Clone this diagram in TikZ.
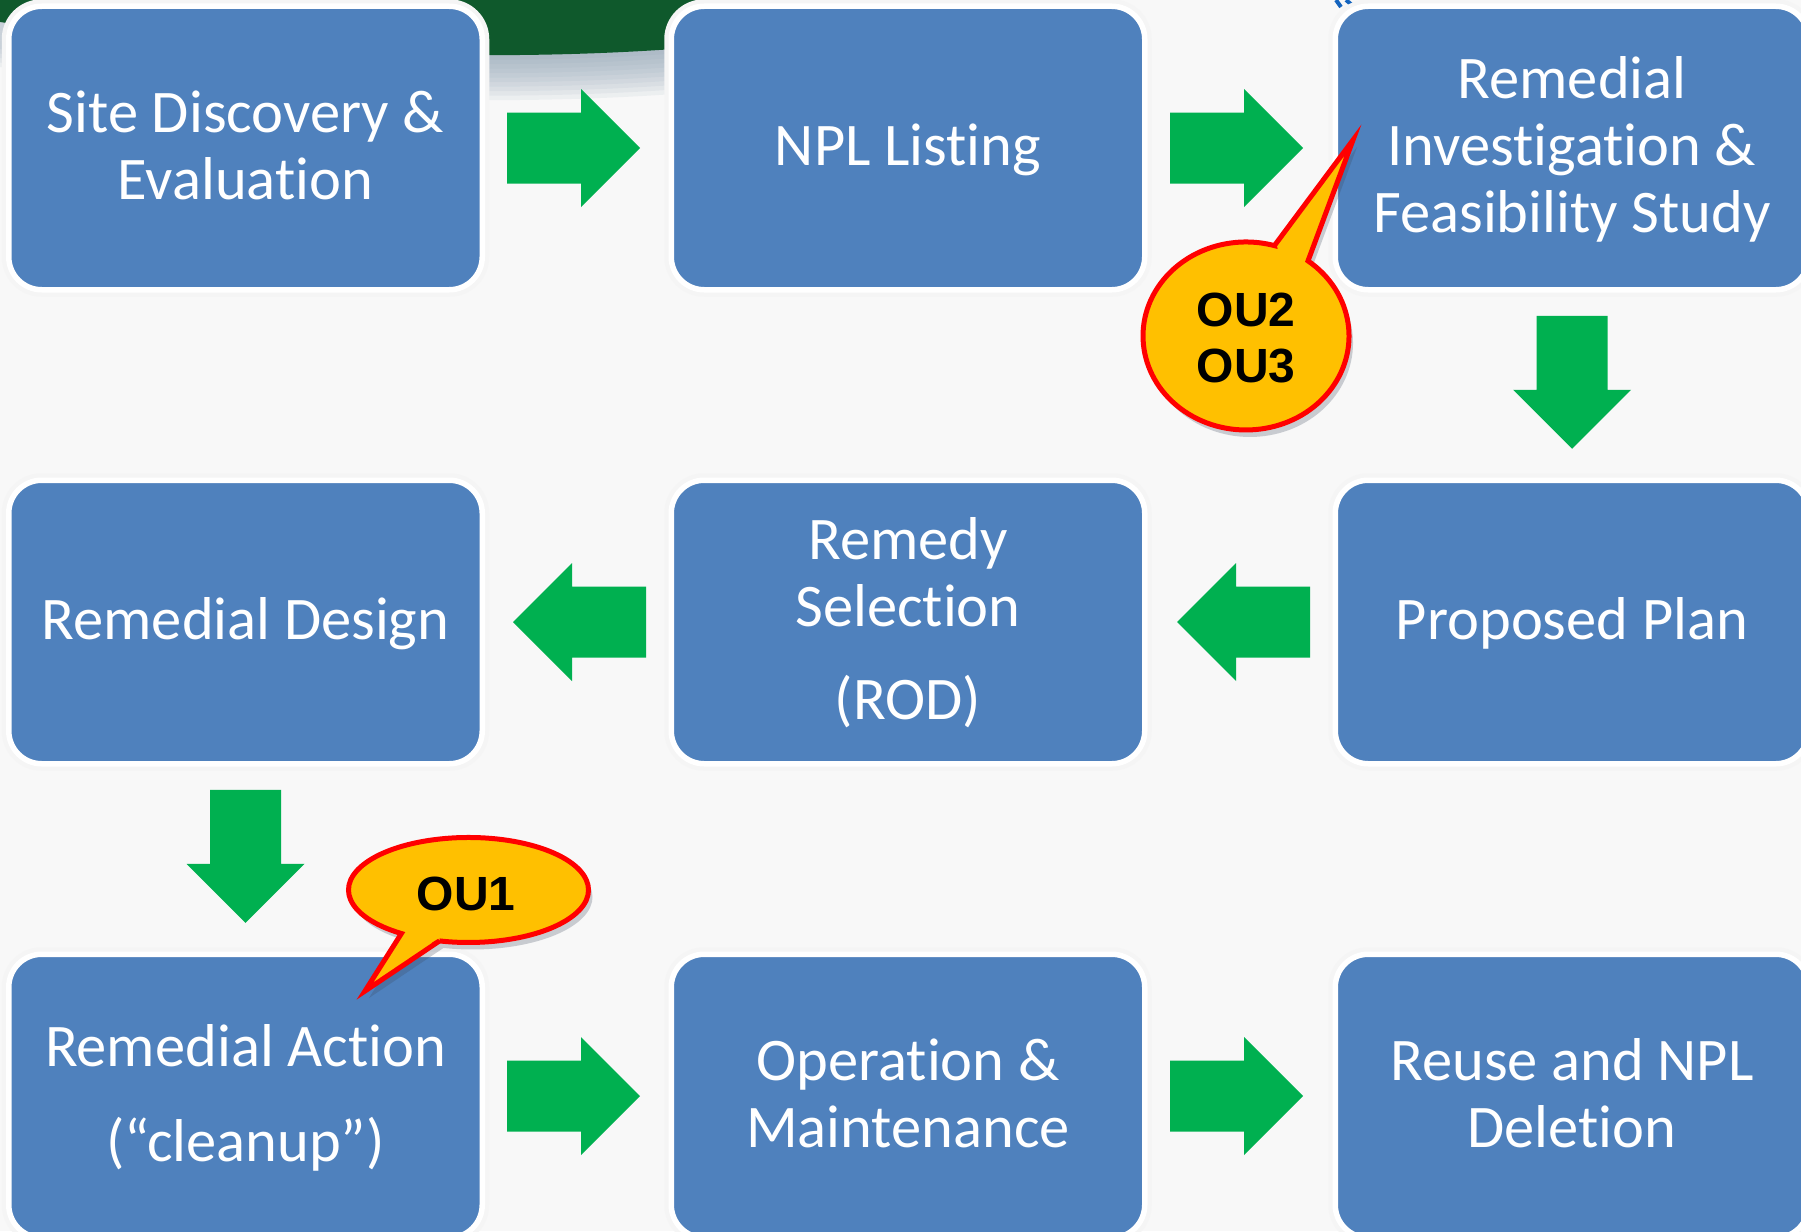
\documentclass[tikz,border=0pt]{standalone}
\usepackage{fontspec}
\setmainfont{Carlito}[Ligatures=NoCommon]
\newfontfamily\oufont{Liberation Sans}
\usetikzlibrary{calc}
\definecolor{bg}{RGB}{248,248,248}
\definecolor{boxblue}{RGB}{79,129,189}
\definecolor{arrgreen}{RGB}{0,176,80}
\definecolor{darkgreen}{RGB}{15,89,44}
\definecolor{fadec}{RGB}{140,160,178}
\definecolor{calloutfill}{RGB}{255,192,0}
\definecolor{calloutred}{RGB}{255,0,0}
\definecolor{titleblue}{RGB}{20,100,190}
\definecolor{shadowc}{RGB}{60,70,90}
\begin{document}
\begin{tikzpicture}[x=1pt,y=-1pt,
  stepbox/.style={rectangle, rounded corners=33pt, fill=boxblue, draw=white, line width=5.5pt,
    minimum width=473.5pt, minimum height=283.5pt, inner sep=0pt, outer sep=0pt,
    preaction={draw=black!4, line width=14pt}},
  boxtxt/.style={text=white, font=\fontsize{60.5}{66.7}\selectfont, anchor=base, inner sep=0pt},
  outxt/.style={text=black, font=\oufont\bfseries\fontsize{48}{52}\selectfont, anchor=base, inner sep=0pt},
  callout/.style={fill=calloutfill, draw=calloutred, line width=5pt, line join=miter},
  calloutshadow/.style={fill=shadowc, opacity=0.25},
  rarr/.pic={\fill[arrgreen] (0,-35.5) -- (74,-35.5) -- (74,-59) -- (133,0) -- (74,59) -- (74,35.5) -- (0,35.5) -- cycle;}
]
\useasboundingbox (0,0) rectangle (1801,1231);
\clip (0,0) rectangle (1801,1231);
\fill[bg] (0,0) rectangle (1801,1231);

% top decoration
\foreach \i in {1,...,10}{
  \fill[fadec, opacity=0.1, shift={(0,{4.5*\i})}] (0,0) -- (0,22) .. controls (150,45) and (330,57) .. (520,55) .. controls (720,53) and (880,30) .. (995,0) -- cycle;
}
\fill[darkgreen] (0,0) -- (0,22) .. controls (150,45) and (330,57) .. (520,55) .. controls (720,53) and (880,30) .. (995,0) -- cycle;
\draw[titleblue, line width=4pt] (1336,0) -- (1341,7) (1346,0) -- (1352,5) (1476,0) -- (1471,6) (1482,0) -- (1488,6) (1500,0) -- (1496,6);

% boxes
\node[stepbox] (b1) at (245.5,148) {};
\node[stepbox] (b2) at (908,148) {};
\node[stepbox] (b3) at (1572,148) {};
\node[stepbox] (b4) at (1572,622) {};
\node[stepbox] (b5) at (908,622) {};
\node[stepbox] (b6) at (245.5,622) {};
\node[stepbox] (b7) at (245.5,1096) {};
\node[stepbox] (b8) at (908,1096) {};
\node[stepbox] (b9) at (1572,1096) {};

% texts
\node[boxtxt] (t1a) at ($(b1.center)+(0,-15.6)$) {Site Discovery \&};
\node[boxtxt] (t1b) at ($(b1.center)+(0,51.1)$) {Evaluation};
\node[boxtxt] (t2) at ($(b2.center)+(0,17.7)$) {NPL Listing};
\node[boxtxt] (t3a) at ($(b3.center)+(0,-49)$) {Remedial};
\node[boxtxt] (t3b) at ($(b3.center)+(0,17.7)$) {Investigation \&};
\node[boxtxt] (t3c) at ($(b3.center)+(0,84.3)$) {Feasibility Study};
\node[boxtxt] (t4) at ($(b4.center)+(0,17.7)$) {Proposed Plan};
\node[boxtxt] (t5a) at ($(b5.center)+(0,-62.7)$) {Remedy};
\node[boxtxt] (t5b) at ($(b5.center)+(0,4)$) {Selection};
\node[boxtxt] (t5c) at ($(b5.center)+(0,97.3)$) {(ROD)};
\node[boxtxt] (t6) at ($(b6.center)+(0,17.7)$) {Remedial Design};
\node[boxtxt] (t7a) at ($(b7.center)+(0,-29.5)$) {Remedial Action};
\node[boxtxt] (t7b) at ($(b7.center)+(0,65)$) {(“cleanup”)};
\node[boxtxt] (t8a) at ($(b8.center)+(0,-15.6)$) {Operation \&};
\node[boxtxt] (t8b) at ($(b8.center)+(0,51.1)$) {Maintenance};
\node[boxtxt] (t9a) at ($(b9.center)+(0,-15.6)$) {Reuse and NPL};
\node[boxtxt] (t9b) at ($(b9.center)+(0,51.1)$) {Deletion};

% block arrows
\pic at ($(b1.east)+(24.75,0)$) {rarr};
\pic at ($(b2.east)+(25.25,0)$) {rarr};
\pic[rotate=-90] at ($(b3.south)+(0,26)$) {rarr};
\pic[rotate=180] at ($(b4.west)+(-25.25,0)$) {rarr};
\pic[rotate=180] at ($(b5.west)+(-25.25,0)$) {rarr};
\pic[rotate=-90] at ($(b6.south)+(0,26)$) {rarr};
\pic at ($(b7.east)+(24.75,0)$) {rarr};
\pic at ($(b8.east)+(25.25,0)$) {rarr};

% callout OU2 / OU3
\fill[calloutshadow, shift={(4,7)}] (1274.4,245.6) -- (1353,140) -- (1308,260.9) arc[start angle=-53, end angle=286, x radius=103, y radius=94] -- cycle;
\draw[callout] (1274.4,245.6) -- (1353,140) -- (1308,260.9) arc[start angle=-53, end angle=286, x radius=103, y radius=94] -- cycle;
\node[outxt] (ou2) at (1246,326) {OU2};
\node[outxt] (ou3) at (1246,382) {OU3};

% callout OU1
\fill[calloutshadow, shift={(4,7)}] (439.5,940.9) -- (365,991) -- (401.4,933.5) arc[start angle=124, end angle=464, x radius=120, y radius=52.5] -- cycle;
\draw[callout] (439.5,940.9) -- (365,991) -- (401.4,933.5) arc[start angle=124, end angle=464, x radius=120, y radius=52.5] -- cycle;
\node[outxt] (ou1) at (466,910) {OU1};
\end{tikzpicture}
\end{document}
